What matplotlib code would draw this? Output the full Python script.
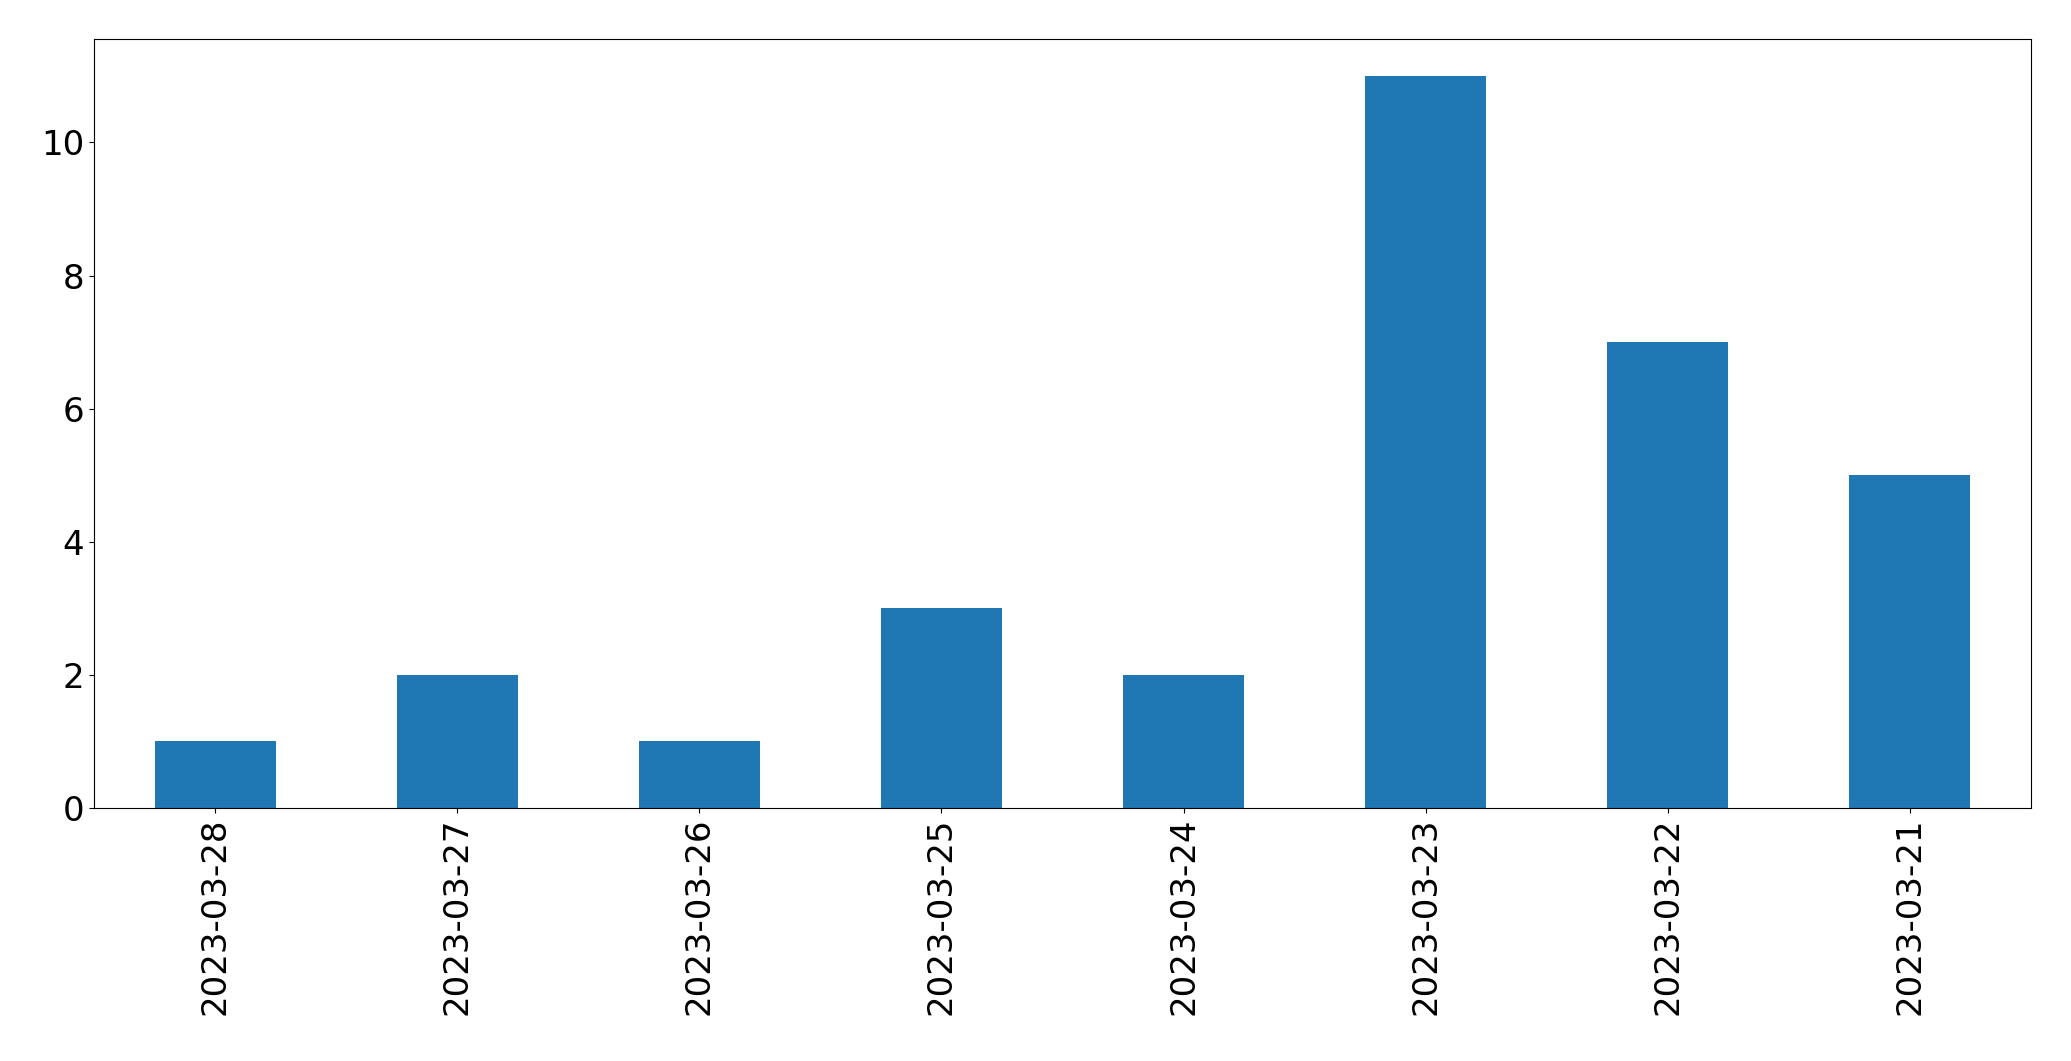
import matplotlib
matplotlib.use("Agg")
import pandas as pd
from matplotlib import pyplot as plt

dates = ["2023-03-28", "2023-03-27", "2023-03-26", "2023-03-25",
         "2023-03-24", "2023-03-23", "2023-03-22", "2023-03-21"]
counts = [1, 2, 1, 3, 2, 11, 7, 5]

s = pd.Series(counts, index=dates)

fig = plt.figure(figsize=(20.71, 10.61), dpi=100)
ax = fig.add_axes([0.0454, 0.2385, 0.9353, 0.7245])
s.plot(kind="bar", ax=ax, color="#1f77b4", fontsize=24.5)
ax.tick_params(axis="x", labelrotation=90)

fig.savefig("out.png", dpi=100)
